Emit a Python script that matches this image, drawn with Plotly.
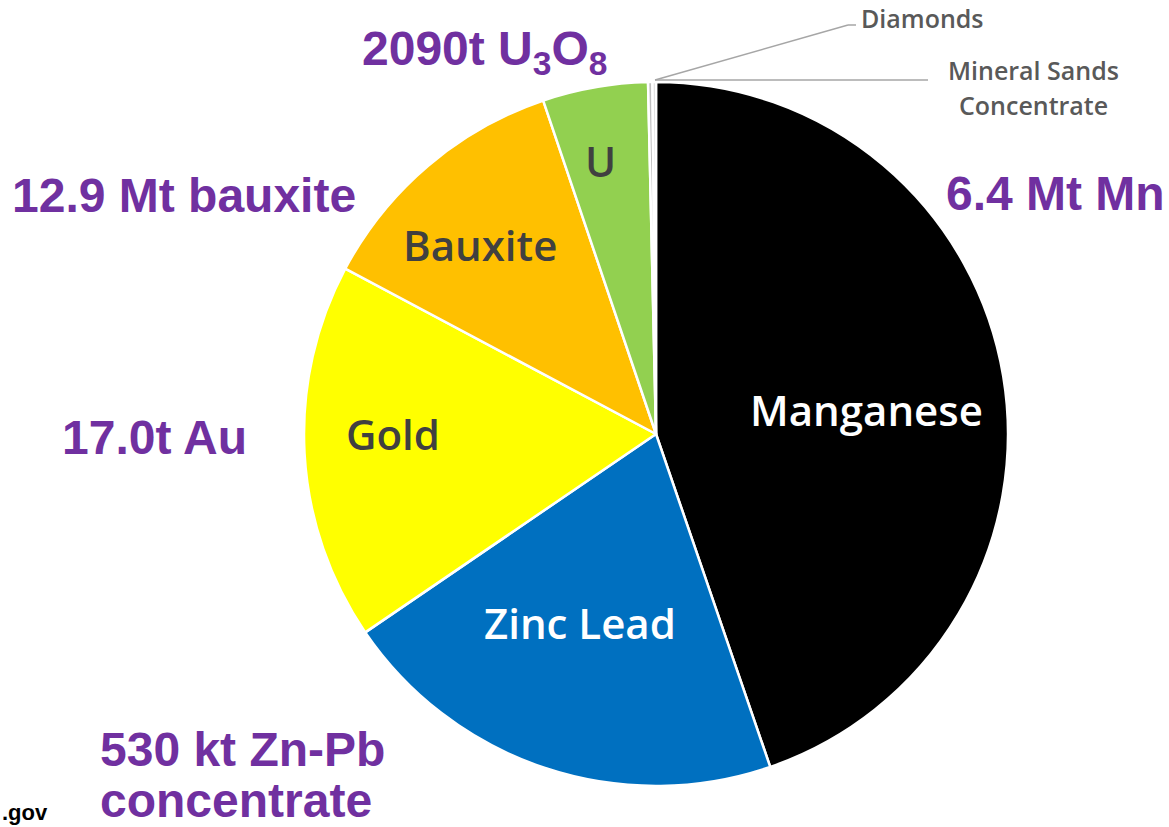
import plotly.graph_objects as go

# Data
categories = ["Manganese", "Zinc Lead", "Gold", "Bauxite", "U", "Diamonds", "Mineral Sands Concentrate"]
shares = [44.74, 20.73, 17.31, 12.03, 4.83, 0.20, 0.16]
colors = ["#000000", "#0070C0", "#FFFF00", "#FFC000", "#92D050", "#BFBFBF", "#D9D9D9"]
inside_labels = ["Manganese", "Zinc Lead", "Gold", "Bauxite", "U"]
inside_colors = ["#FFFFFF", "#FFFFFF", "#404040", "#404040", "#404040"]
production_labels = ["6.4 Mt Mn", "530 kt Zn-Pb", "concentrate", "17.0t Au", "12.9 Mt bauxite",
                     "2090t U<sub>3</sub>O<sub>8</sub>"]

W, H = 1169, 827


def px(x):
    return x / W


def py(y):
    return 1 - y / H


fig = go.Figure()
fig.add_trace(go.Pie(
    labels=categories,
    values=shares,
    sort=False,
    direction="clockwise",
    rotation=0,
    marker=dict(colors=colors, line=dict(color="#FFFFFF", width=2.5)),
    textinfo="none",
    showlegend=False,
    domain=dict(x=[px(304), px(1008)], y=[py(786), py(82)]),
))

ann = []
inside_pos = [(866, 410), (580, 622), (393, 433), (480, 244), (600, 160)]
for t, c, (x, y) in zip(inside_labels, inside_colors, inside_pos):
    ann.append(dict(x=px(x), y=py(y), xref="paper", yref="paper", text=t, showarrow=False,
                    xanchor="center", yanchor="middle",
                    font=dict(family="Open Sans", size=42, color=c, weight=600)))

# (x, y, xanchor)
purple_pos = [(1167, 193, "right"), (98, 749, "left"), (98, 800, "left"),
              (60, 437, "left"), (10, 195, "left"), (360, 52, "left")]
for t, (x, y, xa) in zip(production_labels, purple_pos):
    ann.append(dict(x=px(x), y=py(y), xref="paper", yref="paper", text=t, showarrow=False,
                    xanchor=xa, yanchor="middle",
                    font=dict(family="Liberation Sans", size=48, color="#7030A0", weight="bold")))

gray_font = dict(family="Open Sans", size=25, color="#595959", weight=600)
ann.append(dict(x=px(922), y=py(18), xref="paper", yref="paper", text="Diamonds", showarrow=False,
                xanchor="center", yanchor="middle", font=gray_font))
ann.append(dict(x=px(1033), y=py(70), xref="paper", yref="paper", text="Mineral Sands", showarrow=False,
                xanchor="center", yanchor="middle", font=gray_font))
ann.append(dict(x=px(1033), y=py(105), xref="paper", yref="paper", text="Concentrate", showarrow=False,
                xanchor="center", yanchor="middle", font=gray_font))
ann.append(dict(x=0, y=py(812), xref="paper", yref="paper", text=".gov", showarrow=False,
                xanchor="left", yanchor="middle",
                font=dict(family="Liberation Sans", size=22, color="#000000", weight="bold")))

shapes = [
    dict(type="line", xref="paper", yref="paper", x0=px(655), y0=py(80), x1=px(848), y1=py(25),
         line=dict(color="#A6A6A6", width=1.5)),
    dict(type="line", xref="paper", yref="paper", x0=px(848), y0=py(25), x1=px(856), y1=py(25),
         line=dict(color="#A6A6A6", width=1.5)),
    dict(type="line", xref="paper", yref="paper", x0=px(655), y0=py(80), x1=px(928), y1=py(80),
         line=dict(color="#A6A6A6", width=1.5)),
]

fig.update_layout(
    width=W, height=H,
    margin=dict(l=0, r=0, t=0, b=0),
    paper_bgcolor="#FFFFFF",
    plot_bgcolor="#FFFFFF",
    annotations=ann,
    shapes=shapes,
)

fig.write_html("out.html", config={"displayModeBar": False},
               post_script="document.body.style.margin='0';")
